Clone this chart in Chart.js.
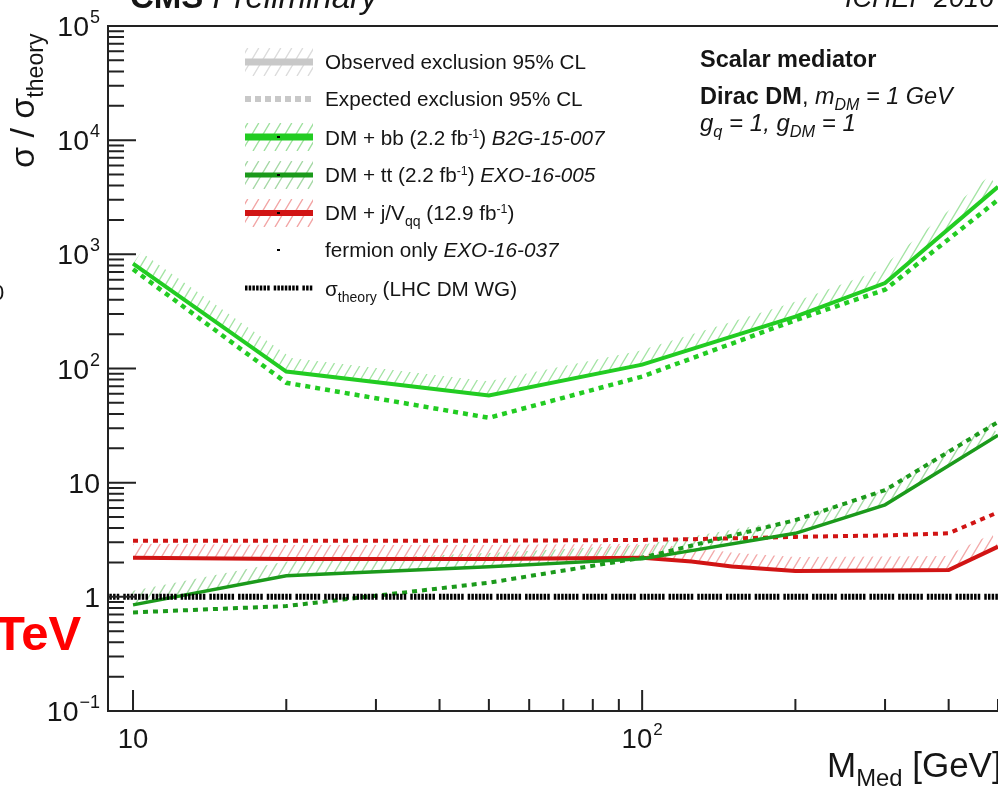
<!DOCTYPE html>
<html>
<head>
<meta charset="utf-8">
<script src="https://cdn.jsdelivr.net/npm/chart.js@4.4.1/dist/chart.umd.min.js"></script>
<style>
  html, body { margin: 0; padding: 0; background: #fff; }
  #wrap { position: relative; width: 998px; height: 790px; overflow: hidden;
          font-family: "Liberation Sans", Arial, sans-serif; color: #151515; }
  #plot { position: absolute; left: 0; top: 0; }
  .t { position: absolute; white-space: nowrap; line-height: 1; }
  .sub { font-size: 68%; position: relative; top: 0.38em; }
  .sup { font-size: 60%; position: relative; top: -0.6em; }
</style>
</head>
<body>
<div id="wrap"><canvas id="plot" width="998" height="790"></canvas></div>
<script>
// mediator mass points [GeV] and sigma/sigma_theory limits
const massBB = [10, 20, 50, 100, 200, 300, 500];
const obsBB  = [830, 94, 58, 108, 285, 560, 3900];
const expBB  = [740, 75, 37, 85, 265, 490, 3000];

const massTT = [10, 20, 50, 100, 200, 300, 500];
const obsTT  = [0.85, 1.53, 1.83, 2.15, 3.6, 6.4, 26];
const expTT  = [0.73, 0.83, 1.33, 2.2, 4.7, 8.6, 34];

const massJV = [10, 20, 50, 100, 125, 150, 200, 300, 400, 500];
const obsJV  = [2.2, 2.15, 2.15, 2.2, 2.04, 1.84, 1.68, 1.7, 1.72, 2.75];
const expJV  = [3.1, 3.1, 3.1, 3.15, 3.2, 3.25, 3.35, 3.45, 3.6, 5.5];

const theoryMass  = [5, 1000];
const theoryRatio = [1, 1];

// tick labels: mantissa text + exponent (superscript)
const xTickVals = [10, 100];
const xTickBase = ['10', '10'];
const xTickExp  = ['', '2'];
const yTickVals = [0.1, 1, 10, 100, 1e3, 1e4, 1e5];
const yTickBase = ['10', '1', '10', '10', '10', '10', '10'];
const yTickExp  = ['\u22121', '', '', '2', '3', '4', '5'];

const bbColor = '#22cc22';
const ttColor = '#1b9a1b';
const jvColor = '#d11414';
const theoryDash = [2.5, 1.2, 2.5, 1.2, 2.5, 1.2, 2.5, 1.2, 2.5, 1.2, 2.5, 1.2, 2.5, 4];
const labelFont = "'Liberation Sans', Arial, sans-serif";

function pts(xs, ys) {
    return xs.map((x, i) => ({ x: x, y: ys[i] }));
}

// diagonal "/" hatch lines inside a box (caller sets clip)
function drawHatch(c, x0, y0, w, h, color, step) {
    const k = 0.6;
    c.strokeStyle = color;
    c.lineWidth = 1.4;
    c.setLineDash([]);
    c.beginPath();
    const start = Math.floor((x0 - h * k) / step) * step;
    for (let x = start; x < x0 + w + step; x += step) {
        c.moveTo(x, y0 + h);
        c.lineTo(x + h * k, y0);
    }
    c.stroke();
}

// hatched band on the excluded (upper) side of a curve
function bandHatch(c, p, w, color) {
    if (p.length < 2) return;
    const n = [];
    for (let i = 0; i < p.length - 1; i++) {
        const dx = p[i + 1].x - p[i].x, dy = p[i + 1].y - p[i].y;
        const L = Math.hypot(dx, dy) || 1;
        n.push({ x: dy / L, y: -dx / L });
    }
    const off = p.map((q, j) => {
        const a = n[Math.max(j - 1, 0)], b = n[Math.min(j, n.length - 1)];
        let mx = a.x + b.x, my = a.y + b.y;
        const ml = Math.hypot(mx, my) || 1;
        mx /= ml; my /= ml;
        const s = w / Math.max(mx * b.x + my * b.y, 0.4);
        return { x: q.x + mx * s, y: q.y + my * s };
    });
    c.save();
    c.beginPath();
    c.moveTo(p[0].x, p[0].y);
    p.forEach(q => c.lineTo(q.x, q.y));
    for (let j = off.length - 1; j >= 0; j--) c.lineTo(off[j].x, off[j].y);
    c.closePath();
    c.clip();
    const all = p.concat(off);
    const minX = Math.min(...all.map(q => q.x)), maxX = Math.max(...all.map(q => q.x));
    const minY = Math.min(...all.map(q => q.y)), maxY = Math.max(...all.map(q => q.y));
    drawHatch(c, minX, minY, maxX - minX, maxY - minY, color, 9);
    c.restore();
}

const hatchPlugin = {
    id: 'hatchBands',
    beforeDatasetsDraw(chart) {
        const c = chart.ctx, a = chart.chartArea;
        c.save();
        c.beginPath();
        c.rect(a.left, a.top, a.right - a.left, a.bottom - a.top);
        c.clip();
        chart.data.datasets.forEach((ds, i) => {
            if (!ds.hatchColor) return;
            const p = chart.getDatasetMeta(i).data.map(e => ({ x: e.x, y: e.y }));
            bandHatch(c, p, 14, ds.hatchColor);
        });
        c.restore();
    }
};

// ROOT style inward ticks, top frame line, and 10^n labels
const frameTicks = {
    id: 'frameTicks',
    afterDraw(chart) {
        const c = chart.ctx, a = chart.chartArea, xs = chart.scales.x, ys = chart.scales.y;
        c.save();
        c.strokeStyle = '#222';
        c.lineWidth = 2;
        c.beginPath();
        c.moveTo(a.left, a.top);
        c.lineTo(a.right, a.top);
        for (let e = -1; e <= 4; e++) {
            for (let k = 1; k <= 9; k++) {
                const y = ys.getPixelForValue(k * Math.pow(10, e));
                c.moveTo(a.left, y);
                c.lineTo(a.left + (k === 1 ? 28 : 16), y);
            }
        }
        for (let e = 1; e <= 2; e++) {
            for (let k = 1; k <= 9; k++) {
                const v = k * Math.pow(10, e);
                if (v > xs.max || v < xs.min) continue;
                const x = xs.getPixelForValue(v);
                c.moveTo(x, a.bottom);
                c.lineTo(x, a.bottom - (k === 1 ? 21 : 12));
            }
        }
        c.stroke();

        c.fillStyle = '#151515';
        c.textBaseline = 'alphabetic';
        c.textAlign = 'left';
        function widths(base, exp, fs) {
            c.font = fs + 'px ' + labelFont;
            const bw = c.measureText(base).width;
            c.font = Math.round(fs * 0.63) + 'px ' + labelFont;
            const ew = exp ? c.measureText(exp).width + 1 : 0;
            return [bw, ew];
        }
        function draw(base, exp, left, baseline, bw, fs) {
            c.font = fs + 'px ' + labelFont;
            c.fillText(base, left, baseline);
            if (exp) {
                c.font = Math.round(fs * 0.63) + 'px ' + labelFont;
                c.fillText(exp, left + bw + 1, baseline - 13);
            }
        }
        yTickVals.forEach((v, i) => {
            const y = ys.getPixelForValue(v);
            const [bw, ew] = widths(yTickBase[i], yTickExp[i], 28.5);
            draw(yTickBase[i], yTickExp[i], a.left - 8 - bw - ew, y + 10, bw, 28.5);
        });
        xTickVals.forEach((v, i) => {
            const x = xs.getPixelForValue(v);
            const [bw, ew] = widths(xTickBase[i], xTickExp[i], 27.5);
            draw(xTickBase[i], xTickExp[i], x - (bw + ew) / 2, a.bottom + 37, bw, 27.5);
        });
        c.restore();
    }
};

// legend symbols (text is overlaid as html)
const legendPlugin = {
    id: 'legendSymbols',
    afterDraw(chart) {
        const c = chart.ctx;
        const x0 = 245, x1 = 313, w = x1 - x0;
        function hatchBox(yc, color) {
            c.save();
            c.beginPath();
            c.rect(x0, yc - 14, w, 28);
            c.clip();
            drawHatch(c, x0, yc - 14, w, 28, color, 11);
            c.restore();
        }
        function line(yc, color, lw, dash) {
            c.save();
            c.strokeStyle = color;
            c.lineWidth = lw;
            c.lineCap = 'butt';
            c.setLineDash(dash || []);
            c.beginPath();
            c.moveTo(x0, yc);
            c.lineTo(x1, yc);
            c.stroke();
            c.restore();
        }
        function dot(yc) {
            c.fillStyle = '#000';
            c.fillRect(277, yc - 1, 3, 2);
        }
        hatchBox(62, '#dcdcdc');
        line(62, '#c8c8c8', 7);
        line(99, '#c8c8c8', 6, [6, 4]);
        hatchBox(137, '#9fe09f');
        line(137, bbColor, 7);
        dot(137);
        hatchBox(175, '#a5d8a5');
        line(175, ttColor, 5);
        dot(175);
        hatchBox(213, '#f2a5a5');
        line(213, jvColor, 6);
        dot(213);
        dot(250);
        line(288, '#000', 5, theoryDash);
    }
};

const chartCtx = document.getElementById('plot').getContext('2d');
new Chart(chartCtx, {
    type: 'line',
    data: {
        datasets: [
            { label: 'sigma theory', data: pts(theoryMass, theoryRatio), borderColor: '#000',
              borderWidth: 6, borderDash: theoryDash, clip: 0 },
            { label: 'DM + bb observed', data: pts(massBB, obsBB), borderColor: bbColor,
              borderWidth: 4, hatchColor: '#a4e4a4' },
            { label: 'DM + bb expected', data: pts(massBB, expBB), borderColor: bbColor,
              borderWidth: 4.5, borderDash: [5, 5] },
            { label: 'DM + tt observed', data: pts(massTT, obsTT), borderColor: ttColor,
              borderWidth: 3.5, hatchColor: '#a8dca8' },
            { label: 'DM + tt expected', data: pts(massTT, expTT), borderColor: ttColor,
              borderWidth: 4, borderDash: [5, 5] },
            { label: 'DM + j/V observed', data: pts(massJV, obsJV), borderColor: jvColor,
              borderWidth: 4, hatchColor: '#f3abab' },
            { label: 'DM + j/V expected', data: pts(massJV, expJV), borderColor: jvColor,
              borderWidth: 4, borderDash: [5, 5] }
        ]
    },
    options: {
        responsive: false,
        animation: false,
        layout: { padding: { top: 26, right: 0, left: 0, bottom: 0 } },
        elements: {
            point: { radius: 0, hoverRadius: 0 },
            line: { tension: 0, borderCapStyle: 'butt', fill: false }
        },
        plugins: { legend: { display: false }, tooltip: { enabled: false } },
        scales: {
            x: {
                type: 'logarithmic',
                min: 8.93,
                max: 500,
                grid: { display: false },
                border: { display: true, color: '#222', width: 2 },
                afterBuildTicks: s => { s.ticks = xTickVals.map(v => ({ value: v })); },
                afterFit: s => { s.height = 79; },
                ticks: { display: false }
            },
            y: {
                type: 'logarithmic',
                min: 0.1,
                max: 1e5,
                grid: { display: false },
                border: { display: true, color: '#222', width: 2 },
                afterBuildTicks: s => { s.ticks = yTickVals.map(v => ({ value: v })); },
                afterFit: s => { s.width = 108; },
                ticks: { display: false }
            }
        }
    },
    plugins: [hatchPlugin, frameTicks, legendPlugin]
});

// text overlays, placed by baseline
const wrap = document.getElementById('wrap');
function put(html, x, base, fs, css) {
    const d = document.createElement('div');
    d.className = 't';
    d.innerHTML = html;
    d.style.left = x + 'px';
    d.style.top = (base - 0.8465 * fs) + 'px';
    d.style.fontSize = fs + 'px';
    if (css) d.style.cssText += css;
    wrap.appendChild(d);
    return d;
}

put('<b>CMS</b> <i>Preliminary</i>', 130, 8, 33);
put('<i>ICHEP 2016</i>', 845, 8, 27);

const yTitle = put('σ / σ<span class="sub">theory</span>', 5, 0, 34,
    'transform-origin:0 0;transform:rotate(-90deg);');
yTitle.style.top = '168px';

put('M<span class="sub">Med</span> [GeV]', 827, 777, 35);

const legendRows = [
    'Observed exclusion 95% CL',
    'Expected exclusion 95% CL',
    'DM + bb (2.2 fb<span class="sup">-1</span>) <i>B2G-15-007</i>',
    'DM + tt (2.2 fb<span class="sup">-1</span>) <i>EXO-16-005</i>',
    'DM + j/V<span class="sub">qq</span> (12.9 fb<span class="sup">-1</span>)',
    'fermion only <i>EXO-16-037</i>',
    'σ<span class="sub">theory</span> (LHC DM WG)'
];
const legendBase = [70, 107, 146, 183, 221, 258, 297];
legendRows.forEach((h, i) => put(h, 325, legendBase[i], 20.7));

put('<b>Scalar mediator</b>', 700, 68, 23.5);
put('<b>Dirac DM</b>, <i>m<span class="sub">DM</span> = 1 GeV</i>', 700, 105, 23.5);
put('<i>g<span class="sub">q</span> = 1, g<span class="sub">DM</span> = 1</i>', 700, 131, 24);

put('<b>TeV</b>', -5, 650, 49, 'color:#ff0000;');
put('0', -8, 301, 22);
</script>
</body>
</html>
